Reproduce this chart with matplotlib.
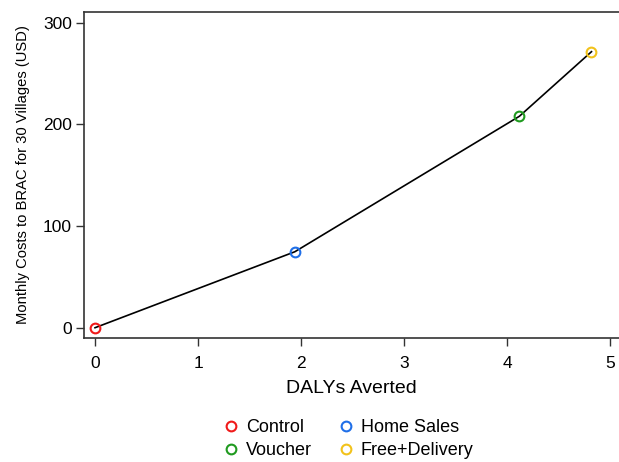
import matplotlib.pyplot as plt
from matplotlib.lines import Line2D

plt.rcParams['font.family'] = ['Liberation Sans', 'DejaVu Sans']

# data
arms = ["Control", "Home Sales", "Voucher", "Free+Delivery"]
dalys = [0.0, 1.94, 4.12, 4.82]
costs = [0.0, 74.7, 207.9, 271.4]
colors = ["#f01a1a", "#1f6fe8", "#1f9a1f", "#f2c21b"]

fig = plt.figure(figsize=(6.19, 4.62), dpi=100)
ax = fig.add_axes([84 / 619, 124 / 462, 535 / 619, 326 / 462])

ax.plot(dalys, costs, color="black", lw=1.2, zorder=2)
for x, y, c in zip(dalys, costs, colors):
    ax.plot(x, y, "o", mfc="none", mec=c, mew=1.5, ms=7, zorder=3)

ax.set_xlim(-0.107, 5.087)
ax.set_ylim(-10.1, 310.4)
ax.set_xticks([0, 1, 2, 3, 4, 5])
ax.set_yticks([0, 100, 200, 300])
ax.tick_params(labelsize=12.5, length=5.7, width=1, color="#333333")
ax.tick_params(axis="x", pad=7)
ax.tick_params(axis="y", pad=3)
ax.spines["right"].set_visible(False)
for s in ["left", "top", "bottom"]:
    ax.spines[s].set_linewidth(1.2)
    ax.spines[s].set_color("#333333")

ax.set_xlabel("DALYs Averted", fontsize=14, labelpad=7)
ax.set_ylabel("Monthly Costs to BRAC for 30 Villages (USD)", fontsize=10.6, labelpad=9)

# legend: columns are (Control, Voucher) and (Home Sales, Free+Delivery)
order = [0, 2, 1, 3]
handles = [Line2D([], [], ls="none", marker="o", mfc="none", mec=colors[i], mew=1.5, ms=7)
           for i in order]
labels = [arms[i] for i in order]
fig.legend(handles, labels, ncol=2, frameon=False, fontsize=13,
           loc="center", bbox_to_anchor=(347 / 619, 1 - 439 / 462),
           handletextpad=0.2, columnspacing=1.3, labelspacing=0.35, handlelength=1.2)

fig.savefig("out.png", dpi=100)
